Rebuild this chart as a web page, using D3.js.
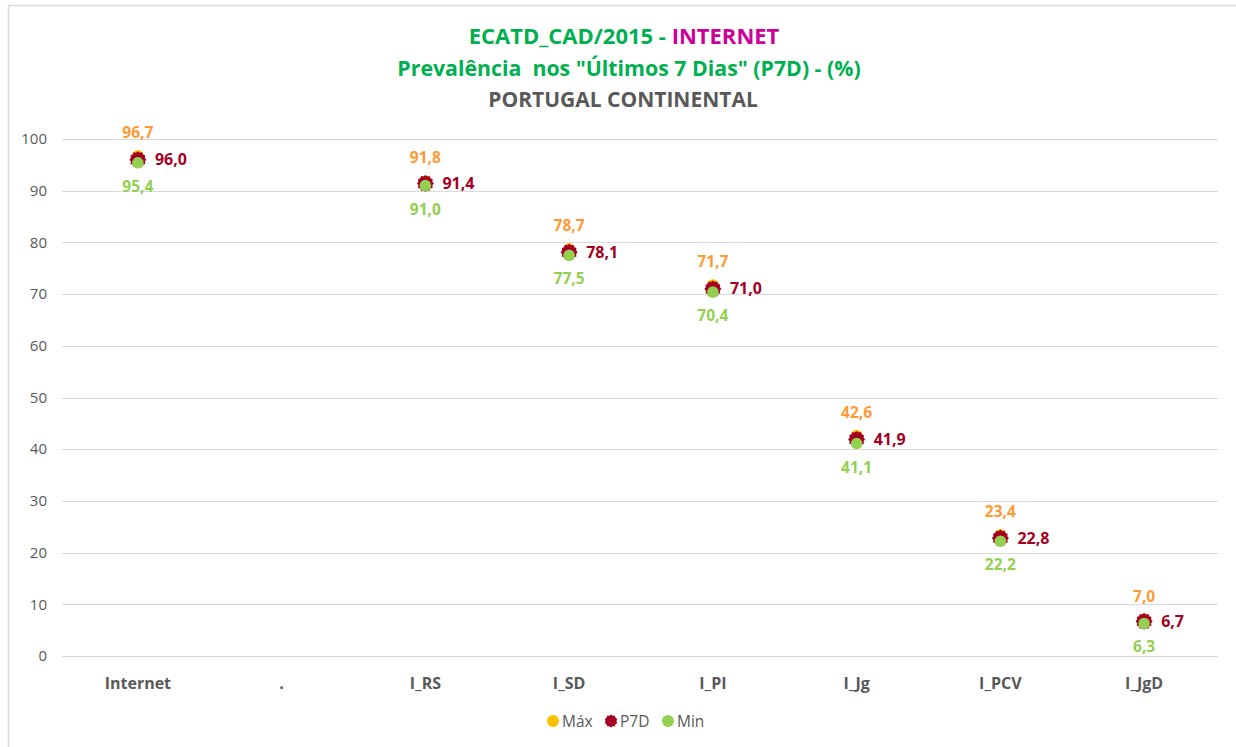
<!DOCTYPE html>
<html>
<head>
<meta charset="utf-8">
<script src="https://cdn.jsdelivr.net/npm/d3@7"></script>
<style>
  body { margin: 0; background: #fff; }
  svg text { font-family: "Open Sans", "Noto Sans", sans-serif; }
</style>
</head>
<body>
<div id="chart"></div>
<script>
// chart data
const categories = ["Internet", ".", "I_RS", "I_SD", "I_PI", "I_Jg", "I_PCV", "I_JgD"];
const maxValues = [96.7, null, 91.8, 78.7, 71.7, 42.6, 23.4, 7.0];
const p7dValues = [96.0, null, 91.4, 78.1, 71.0, 41.9, 22.8, 6.7];
const minValues = [95.4, null, 91.0, 77.5, 70.4, 41.1, 22.2, 6.3];
const yTicks = [0, 10, 20, 30, 40, 50, 60, 70, 80, 90, 100];

const width = 1236;
const height = 747;
const margin = {top: 139, right: 20, bottom: 91, left: 66};

const fmt = v => v.toFixed(1).replace(".", ",");

const svg = d3.select("#chart")
    .append("svg")
    .attr("width", width)
    .attr("height", height);

// chart frame
svg.append("path")
    .attr("d", `M8.5,${height} V5.5 H${width}`)
    .attr("fill", "none")
    .attr("stroke", "#d9d9d9")
    .attr("stroke-width", 1.5);

const x = d3.scaleBand()
    .domain(categories)
    .range([margin.left, width - margin.right]);

const y = d3.scaleLinear()
    .domain([0, 100])
    .range([height - margin.bottom, margin.top]);

// gridlines
svg.append("g")
    .selectAll("line")
    .data(yTicks)
    .enter()
    .append("line")
    .attr("x1", 62)
    .attr("x2", 1218)
    .attr("y1", d => Math.round(y(d)) + 0.5)
    .attr("y2", d => Math.round(y(d)) + 0.5)
    .attr("stroke", "#d9d9d9")
    .attr("stroke-width", 1);

// y axis labels
svg.append("g")
    .selectAll("text")
    .data(yTicks)
    .enter()
    .append("text")
    .attr("x", 47)
    .attr("y", d => y(d))
    .attr("dy", "0.35em")
    .attr("text-anchor", "end")
    .attr("font-size", 15)
    .attr("fill", "#595959")
    .text(d => d);

// category labels
svg.append("g")
    .selectAll("text")
    .data(categories)
    .enter()
    .append("text")
    .attr("x", d => x(d) + x.bandwidth() / 2)
    .attr("y", 689)
    .attr("text-anchor", "middle")
    .attr("font-size", 16)
    .attr("font-weight", "bold")
    .attr("fill", "#595959")
    .text(d => d);

const rows = categories.map((c, i) => ({
    cat: c, max: maxValues[i], p7d: p7dValues[i], min: minValues[i]
})).filter(d => d.p7d !== null);

const cx = d => x(d.cat) + x.bandwidth() / 2;

// burst-shaped marker for P7D
function burst(r1, r2, n) {
    const pts = d3.range(n * 2).map(i => {
        const a = Math.PI * i / n;
        const r = i % 2 ? r2 : r1;
        return [Math.sin(a) * r, -Math.cos(a) * r];
    });
    return d3.line()(pts) + "Z";
}

const colMax = "#ffc000";
const colP7d = "#a50021";
const colMin = "#92d050";

const pts = svg.append("g");

pts.selectAll(".max")
    .data(rows)
    .enter()
    .append("circle")
    .attr("cx", cx)
    .attr("cy", d => y(d.max))
    .attr("r", 6)
    .attr("fill", colMax);

pts.selectAll(".p7d")
    .data(rows)
    .enter()
    .append("path")
    .attr("transform", d => `translate(${cx(d)},${y(d.p7d)})`)
    .attr("d", burst(8.5, 7.2, 12))
    .attr("fill", colP7d);

pts.selectAll(".min")
    .data(rows)
    .enter()
    .append("circle")
    .attr("cx", cx)
    .attr("cy", d => y(d.min))
    .attr("r", 5.8)
    .attr("fill", colMin);

// data labels
const labels = svg.append("g")
    .attr("font-size", 15.5)
    .attr("font-weight", "bold");

labels.selectAll(".lmax")
    .data(rows)
    .enter()
    .append("text")
    .attr("x", cx)
    .attr("y", d => y(d.max) - 18)
    .attr("text-anchor", "middle")
    .attr("fill", "#ff9933")
    .text(d => fmt(d.max));

labels.selectAll(".lp7d")
    .data(rows)
    .enter()
    .append("text")
    .attr("x", d => cx(d) + 17)
    .attr("y", d => y(d.p7d) + 5.5)
    .attr("font-size", 16)
    .attr("fill", colP7d)
    .text(d => fmt(d.p7d));

labels.selectAll(".lmin")
    .data(rows)
    .enter()
    .append("text")
    .attr("x", cx)
    .attr("y", d => y(d.min) + 29)
    .attr("text-anchor", "middle")
    .attr("fill", colMin)
    .text(d => fmt(d.min));

// titles
const title = svg.append("g")
    .attr("text-anchor", "middle")
    .attr("font-weight", "bold");

const t1 = title.append("text")
    .attr("x", 624)
    .attr("y", 44)
    .attr("font-size", 22)
    .attr("fill", "#00b050");
t1.append("tspan").text("ECATD_CAD/2015 - ");
t1.append("tspan").attr("fill", "#cc0099").text("INTERNET");

title.append("text")
    .attr("x", 629)
    .attr("y", 76)
    .attr("font-size", 21.3)
    .attr("fill", "#00b050")
    .text("Prevalência  nos \"Últimos 7 Dias\" (P7D) - (%)")
    .style("white-space", "pre");

title.append("text")
    .attr("x", 623)
    .attr("y", 107)
    .attr("font-size", 21)
    .attr("fill", "#595959")
    .text("PORTUGAL CONTINENTAL");

// legend
const legendItems = [
    {name: "Máx", color: colMax, shape: "circle"},
    {name: "P7D", color: colP7d, shape: "burst"},
    {name: "Min", color: colMin, shape: "circle"}
];
const legend = svg.append("g");
const lx = [553, 611, 668];
legendItems.forEach((item, i) => {
    const g = legend.append("g").attr("transform", `translate(${lx[i]},721)`);
    if (item.shape === "circle") {
        g.append("circle").attr("r", 6).attr("fill", item.color);
    } else {
        g.append("path").attr("d", burst(6.5, 5.5, 10)).attr("fill", item.color);
    }
    g.append("text")
        .attr("x", 9)
        .attr("y", 5.5)
        .attr("font-size", 15.5)
        .attr("fill", "#595959")
        .text(item.name);
});
</script>
</body>
</html>
